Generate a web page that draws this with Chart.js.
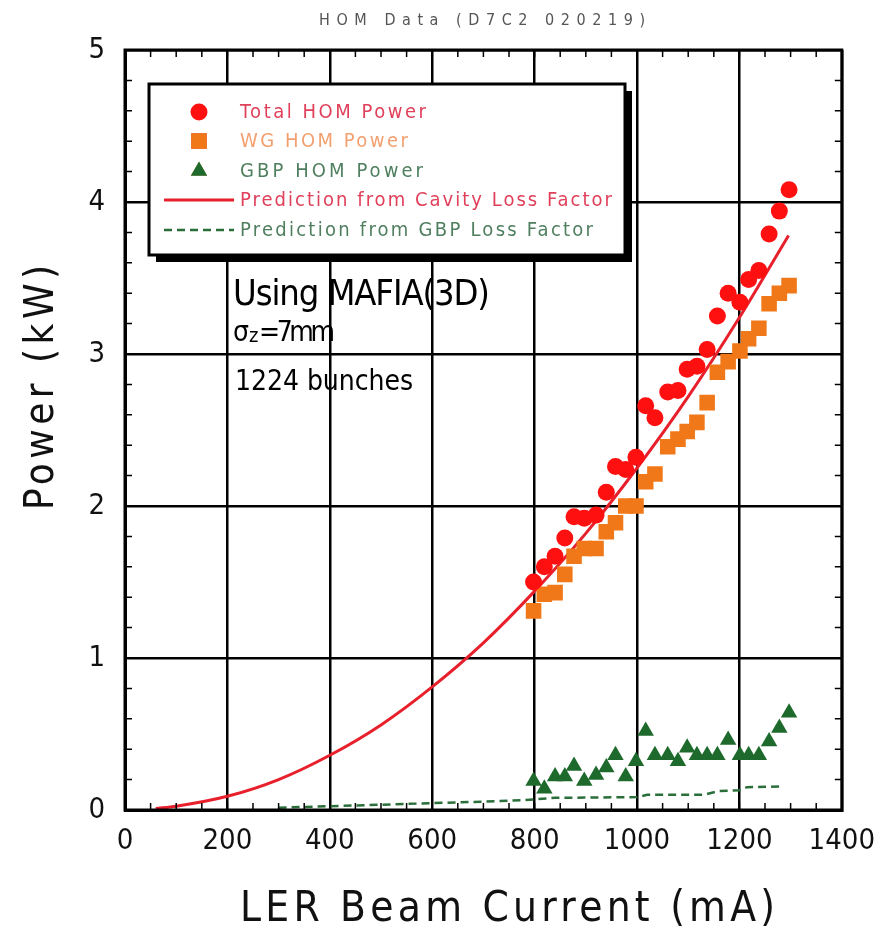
<!DOCTYPE html>
<html>
<head>
<meta charset="utf-8">
<script src="https://cdn.jsdelivr.net/npm/chart.js@4.4.1/dist/chart.umd.min.js"></script>
<style>
  body { margin: 0; background: #fff; }
</style>
</head>
<body>
<canvas id="homChart" width="889" height="928"></canvas>
<script>
// LER beam current (mA) at each measurement
const beamCurrent = [798, 819, 840, 859, 877, 897, 920, 940, 958, 978, 998, 1017, 1035,
  1060, 1080, 1098, 1117, 1137, 1157, 1178, 1201, 1218, 1238, 1258, 1278, 1297];
// measured HOM power (kW)
const totalHom = [1.50, 1.60, 1.67, 1.79, 1.93, 1.92, 1.94, 2.09, 2.26, 2.24, 2.32, 2.66, 2.58,
  2.75, 2.76, 2.90, 2.92, 3.03, 3.25, 3.40, 3.34, 3.49, 3.55, 3.79, 3.94, 4.08];
const wgHom = [1.31, 1.42, 1.43, 1.55, 1.67, 1.72, 1.72, 1.83, 1.89, 2.00, 2.00, 2.16, 2.21,
  2.39, 2.44, 2.49, 2.55, 2.68, 2.88, 2.95, 3.02, 3.10, 3.17, 3.33, 3.40, 3.45];
const gbpHom = [0.19, 0.14, 0.22, 0.22, 0.29, 0.19, 0.23, 0.28, 0.36, 0.22, 0.32, 0.52, 0.36,
  0.36, 0.32, 0.41, 0.36, 0.36, 0.36, 0.46, 0.36, 0.36, 0.36, 0.45, 0.54, 0.64];

// predictions
const cavityPredCurrent = [60, 100, 200, 300, 400, 500, 600, 700, 800, 900, 1000, 1100, 1200, 1296];
const cavityPred = [0.01, 0.025, 0.09, 0.20, 0.36, 0.56, 0.81, 1.10, 1.44, 1.82, 2.25, 2.72, 3.24, 3.78];
const gbpPredCurrent = [300, 400, 500, 600, 700, 780, 840, 1000, 1020, 1130, 1160, 1200, 1215, 1280];
const gbpPred = [0.015, 0.025, 0.035, 0.045, 0.055, 0.065, 0.08, 0.085, 0.10, 0.10, 0.125, 0.13, 0.15, 0.155];

const xTickStep = 200;
const yTickStep = 1;

function pairs(xs, ys) {
  return xs.map((x, i) => ({ x: x, y: ys[i] }));
}

const NARROW = "'Liberation Sans Narrow', 'DejaVu Sans Condensed', sans-serif";

function fitText(ctx, text, x, y, width, font, color) {
  ctx.font = font;
  ctx.letterSpacing = '0px';
  const w = ctx.measureText(text).width;
  const sp = text.length > 1 ? (width - w) / (text.length - 1) : 0;
  ctx.letterSpacing = sp + 'px';
  ctx.fillStyle = color;
  ctx.textAlign = 'left';
  ctx.fillText(text, x, y);
  ctx.letterSpacing = '0px';
}

// inward minor ticks and the frame
const frameTicks = {
  id: 'frameTicks',
  afterDatasetsDraw(chart) {
    const ctx = chart.ctx;
    const xs = chart.scales.x, ys = chart.scales.y;
    const a = chart.chartArea;
    ctx.save();
    ctx.strokeStyle = '#000';
    ctx.lineWidth = 1.5;
    ctx.beginPath();
    for (let v = xs.min + 50; v < xs.max; v += 50) {
      const px = xs.getPixelForValue(v);
      ctx.moveTo(px, a.top); ctx.lineTo(px, a.top + 7);
      ctx.moveTo(px, a.bottom); ctx.lineTo(px, a.bottom - 7);
    }
    for (let v = ys.min + 0.2; v < ys.max - 0.01; v += 0.2) {
      const py = ys.getPixelForValue(v);
      ctx.moveTo(a.left, py); ctx.lineTo(a.left + 7, py);
      ctx.moveTo(a.right, py); ctx.lineTo(a.right - 7, py);
    }
    ctx.stroke();
    ctx.lineWidth = 3;
    ctx.strokeRect(a.left, a.top, a.right - a.left, a.bottom - a.top);
    ctx.restore();
  }
};

// boxed legend with drop shadow
const legendItems = [
  { ds: 0, color: '#e0405a', width: 186 },
  { ds: 1, color: '#f2a070', width: 168 },
  { ds: 2, color: '#4f7f5f', width: 183 },
  { ds: 3, color: '#e0405a', width: 372 },
  { ds: 4, color: '#4f7f5f', width: 353 }
];
const boxLegend = {
  id: 'boxLegend',
  afterDatasetsDraw(chart) {
    const ctx = chart.ctx;
    const bx = 149, by = 84, bw = 476, bh = 171;
    ctx.save();
    ctx.fillStyle = '#000';
    ctx.fillRect(bx + 7, by + 7, bw, bh);
    ctx.fillStyle = '#fff';
    ctx.fillRect(bx, by, bw, bh);
    ctx.strokeStyle = '#000';
    ctx.lineWidth = 3;
    ctx.strokeRect(bx, by, bw, bh);
    const rows = [112, 141, 171, 200, 230];
    legendItems.forEach((it, i) => {
      const ds = chart.data.datasets[it.ds];
      const y = rows[i];
      if (ds.showLine) {
        ctx.strokeStyle = ds.borderColor;
        ctx.lineWidth = ds.borderWidth;
        ctx.setLineDash(ds.borderDash || []);
        ctx.beginPath();
        ctx.moveTo(164, y); ctx.lineTo(234, y);
        ctx.stroke();
        ctx.setLineDash([]);
      } else {
        Chart.helpers.drawPoint(ctx, {
          pointStyle: ds.pointStyle, radius: ds.pointRadius, rotation: 0, borderWidth: 0
        }, 199, y);
        ctx.fillStyle = ds.backgroundColor;
        ctx.fill();
      }
      ctx.textBaseline = 'middle';
      fitText(ctx, ds.label, 240, y + 1, it.width, '20px ' + NARROW, it.color);
    });
    ctx.restore();
  }
};

// title, axis titles and notes
const textLayer = {
  id: 'textLayer',
  afterDraw(chart) {
    const ctx = chart.ctx;
    ctx.save();
    ctx.textBaseline = 'alphabetic';
    fitText(ctx, 'HOM Data (D7C2 020219)', 319, 25, 326, '16px ' + NARROW, '#555');
    fitText(ctx, 'LER Beam Current (mA)', 240, 921, 535, '42px ' + NARROW, '#111');
    ctx.save();
    ctx.translate(53, 510);
    ctx.rotate(-Math.PI / 2);
    fitText(ctx, 'Power (kW)', 0, 0, 245, '40px ' + NARROW, '#111');
    ctx.restore();
    fitText(ctx, 'Using MAFIA(3D)', 233, 305, 257, '36px ' + NARROW, '#000');
    ctx.fillStyle = '#000';
    ctx.font = '28px ' + NARROW;
    ctx.fillText('\u03c3', 233, 341);
    ctx.font = '20px ' + NARROW;
    ctx.fillText('z', 249, 342);
    fitText(ctx, '=7mm', 259, 341, 76, '28px ' + NARROW, '#000');
    fitText(ctx, '1224 bunches', 235, 390, 178, '28px ' + NARROW, '#000');
    ctx.restore();
  }
};

new Chart(document.getElementById('homChart'), {
  type: 'scatter',
  data: {
    datasets: [
      {
        label: 'Total HOM Power',
        data: pairs(beamCurrent, totalHom),
        pointStyle: 'circle',
        pointRadius: 8.5,
        backgroundColor: '#ff1010',
        borderWidth: 0,
        order: 0
      },
      {
        label: 'WG HOM Power',
        data: pairs(beamCurrent, wgHom),
        pointStyle: 'rect',
        pointRadius: 11,
        backgroundColor: '#f07818',
        borderWidth: 0,
        order: 0
      },
      {
        label: 'GBP HOM Power',
        data: pairs(beamCurrent, gbpHom),
        pointStyle: 'triangle',
        pointRadius: 9.5,
        backgroundColor: '#1e6a2c',
        borderWidth: 0,
        order: 0
      },
      {
        label: 'Prediction from Cavity Loss Factor',
        data: pairs(cavityPredCurrent, cavityPred),
        showLine: true,
        cubicInterpolationMode: 'monotone',
        borderColor: '#e8202c',
        borderWidth: 3,
        pointRadius: 0,
        order: 1
      },
      {
        label: 'Prediction from GBP Loss Factor',
        data: pairs(gbpPredCurrent, gbpPred),
        showLine: true,
        borderColor: '#2a6e3a',
        borderWidth: 2.5,
        borderDash: [8, 5],
        pointRadius: 0,
        order: 1
      }
    ]
  },
  options: {
    responsive: false,
    animation: false,
    devicePixelRatio: 1,
    layout: { padding: { top: 50, right: 46, left: 0, bottom: 0 } },
    plugins: {
      legend: { display: false },
      title: { display: false },
      tooltip: { enabled: false }
    },
    scales: {
      x: {
        type: 'linear',
        min: 0,
        max: 1400,
        ticks: {
          stepSize: xTickStep,
          color: '#111',
          padding: 14,
          font: { family: NARROW, size: 29 },
          callback: (v) => String(v)
        },
        grid: { color: '#000', lineWidth: 2.5, drawTicks: false },
        border: { color: '#000', width: 3 },
        afterFit(scale) { scale.height = 118; }
      },
      y: {
        min: 0,
        max: 5,
        ticks: {
          stepSize: yTickStep,
          color: '#111',
          padding: 20,
          font: { family: NARROW, size: 29 },
          callback: (v) => String(v)
        },
        grid: { color: '#000', lineWidth: 2.5, drawTicks: false },
        border: { color: '#000', width: 3 },
        afterFit(scale) { scale.width = 125; }
      }
    }
  },
  plugins: [frameTicks, boxLegend, textLayer]
});
</script>
</body>
</html>
